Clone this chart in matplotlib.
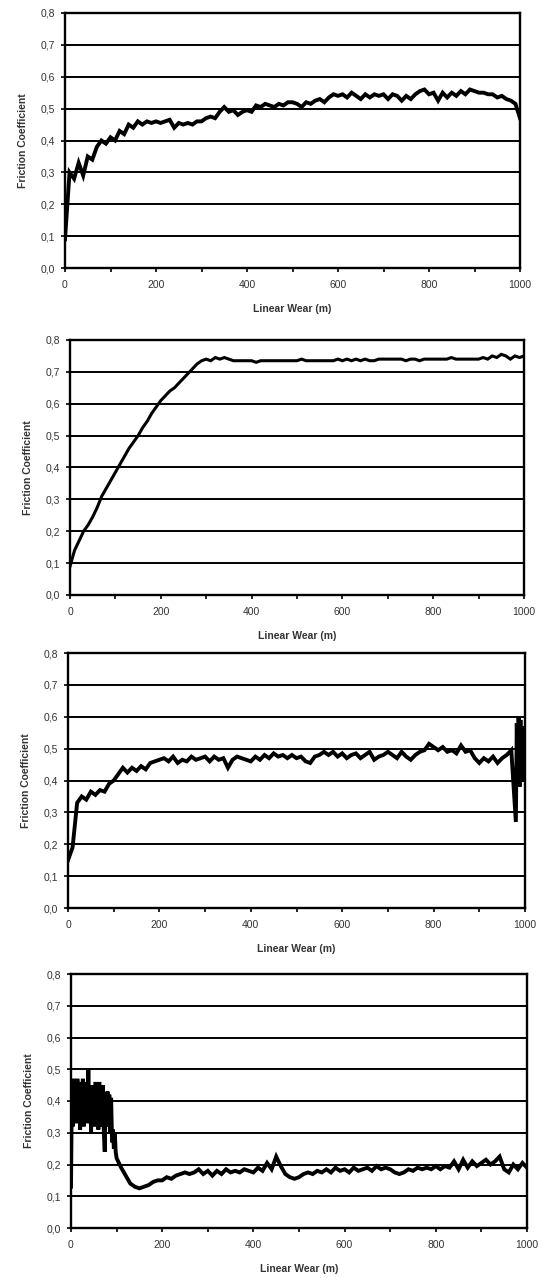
import numpy as np
import matplotlib
matplotlib.use("Agg")
import matplotlib.pyplot as plt
from matplotlib.ticker import FuncFormatter, MultipleLocator

plt.rcParams['font.family'] = ['Liberation Sans', 'DejaVu Sans']

# ---------------- data ----------------
x_label = "Linear Wear (m)"
y_label = "Friction Coefficient"
y_ticks = [0.0, 0.1, 0.2, 0.3, 0.4, 0.5, 0.6, 0.7, 0.8]
x_ticks = [0, 200, 400, 600, 800, 1000]

# Panel 1 (sampled every 10 m)
x1 = np.arange(0, 1001, 10)
y1 = [0.09, 0.30, 0.28, 0.33, 0.29, 0.35, 0.34, 0.38, 0.40, 0.39,
      0.41, 0.40, 0.43, 0.42, 0.45, 0.44, 0.46, 0.45, 0.46, 0.455,
      0.46, 0.455, 0.46, 0.465, 0.44, 0.455, 0.45, 0.455, 0.45, 0.46,
      0.46, 0.47, 0.475, 0.47, 0.49, 0.505, 0.49, 0.495, 0.48, 0.49,
      0.495, 0.49, 0.51, 0.505, 0.515, 0.51, 0.505, 0.515, 0.51, 0.52,
      0.52, 0.515, 0.505, 0.52, 0.515, 0.525, 0.53, 0.52, 0.535, 0.545,
      0.54, 0.545, 0.535, 0.55, 0.54, 0.53, 0.545, 0.535, 0.545, 0.54,
      0.545, 0.53, 0.545, 0.54, 0.525, 0.54, 0.53, 0.545, 0.555, 0.56,
      0.545, 0.55, 0.525, 0.55, 0.535, 0.55, 0.54, 0.555, 0.545, 0.56,
      0.555, 0.55, 0.55, 0.545, 0.545, 0.535, 0.54, 0.53, 0.525, 0.515,
      0.47]

# Panel 2 (sampled every 10 m)
x2 = np.arange(0, 1001, 10)
y2 = [0.09, 0.14, 0.17, 0.20, 0.22, 0.245, 0.275, 0.31, 0.335, 0.36,
      0.385, 0.41, 0.435, 0.46, 0.48, 0.50, 0.525, 0.545, 0.57, 0.59,
      0.61, 0.625, 0.64, 0.65, 0.665, 0.68, 0.695, 0.71, 0.725, 0.735,
      0.74, 0.735, 0.745, 0.74, 0.745, 0.74, 0.735, 0.735, 0.735, 0.735,
      0.735, 0.73, 0.735, 0.735, 0.735, 0.735, 0.735, 0.735, 0.735, 0.735,
      0.735, 0.74, 0.735, 0.735, 0.735, 0.735, 0.735, 0.735, 0.735, 0.74,
      0.735, 0.74, 0.735, 0.74, 0.735, 0.74, 0.735, 0.735, 0.74, 0.74,
      0.74, 0.74, 0.74, 0.74, 0.735, 0.74, 0.74, 0.735, 0.74, 0.74,
      0.74, 0.74, 0.74, 0.74, 0.745, 0.74, 0.74, 0.74, 0.74, 0.74,
      0.74, 0.745, 0.74, 0.75, 0.745, 0.755, 0.75, 0.74, 0.75, 0.745,
      0.75]

# Panel 3 (every 10 m up to 970 m, then every 2 m)
x3 = np.r_[np.arange(0, 971, 10), np.arange(980, 1001, 2)]
y3 = [0.15, 0.19, 0.33, 0.35, 0.34, 0.365, 0.355, 0.37, 0.365, 0.39,
      0.40, 0.42, 0.44, 0.425, 0.44, 0.43, 0.445, 0.435, 0.455, 0.46,
      0.465, 0.47, 0.46, 0.475, 0.455, 0.465, 0.46, 0.475, 0.465, 0.47,
      0.475, 0.46, 0.475, 0.465, 0.47, 0.44, 0.465, 0.475, 0.47, 0.465,
      0.46, 0.475, 0.465, 0.48, 0.47, 0.485, 0.475, 0.48, 0.47, 0.48,
      0.47, 0.475, 0.46, 0.455, 0.475, 0.48, 0.49, 0.48, 0.49, 0.475,
      0.485, 0.47, 0.48, 0.485, 0.47, 0.48, 0.49, 0.465, 0.475, 0.48,
      0.49, 0.48, 0.47, 0.49, 0.475, 0.465, 0.48, 0.49, 0.495, 0.515,
      0.505, 0.495, 0.505, 0.49, 0.495, 0.485, 0.51, 0.49, 0.495, 0.47,
      0.455, 0.47, 0.46, 0.475, 0.455, 0.47, 0.48, 0.495,
      0.27, 0.58, 0.39, 0.60, 0.38, 0.59, 0.42, 0.57, 0.40, 0.55, 0.42]

# Panel 4 (every 2 m up to 98 m, then every 10 m)
x4 = np.r_[np.arange(0, 99, 2), np.arange(100, 1001, 10)]
y4 = [0.13, 0.44, 0.32, 0.47, 0.35, 0.46, 0.33, 0.47, 0.36, 0.46,
      0.31, 0.45, 0.34, 0.47, 0.32, 0.44, 0.36, 0.46, 0.33, 0.50,
      0.34, 0.44, 0.30, 0.45, 0.35, 0.43, 0.32, 0.46, 0.34, 0.45,
      0.31, 0.46, 0.33, 0.44, 0.32, 0.45, 0.30, 0.24, 0.40, 0.32,
      0.43, 0.33, 0.42, 0.30, 0.41, 0.27, 0.31, 0.25, 0.30, 0.24,
      0.22, 0.19, 0.165, 0.14, 0.13, 0.125, 0.13, 0.135, 0.145, 0.15,
      0.15, 0.16, 0.155, 0.165, 0.17, 0.175, 0.17, 0.175, 0.185, 0.17,
      0.18, 0.165, 0.18, 0.17, 0.185, 0.175, 0.18, 0.175, 0.185, 0.18,
      0.175, 0.19, 0.18, 0.205, 0.185, 0.225, 0.195, 0.17, 0.16, 0.155,
      0.16, 0.17, 0.175, 0.17, 0.18, 0.175, 0.185, 0.175, 0.19, 0.18,
      0.185, 0.175, 0.19, 0.18, 0.185, 0.19, 0.18, 0.195, 0.185, 0.19,
      0.185, 0.175, 0.17, 0.175, 0.185, 0.18, 0.19, 0.185, 0.19, 0.185,
      0.195, 0.185, 0.195, 0.19, 0.21, 0.185, 0.215, 0.19, 0.21, 0.195,
      0.205, 0.215, 0.2, 0.21, 0.225, 0.185, 0.175, 0.2, 0.185, 0.205,
      0.19]

series = [(x1, y1), (x2, y2), (x3, y3), (x4, y4)]
line_widths = [2.8, 2.2, 2.8, 2.8]

# ---------------- layout ----------------
W, H = 543, 1278
fig = plt.figure(figsize=(W / 100, H / 100), dpi=100)
fig.patch.set_facecolor('white')

# (left, right, top, bottom) in pixels
boxes = [(65, 520, 13, 268), (70, 524, 340, 595), (68, 525, 653, 908), (71, 527, 974, 1228)]

fmt = FuncFormatter(lambda v, p: f"{v:.1f}".replace('.', ','))

for (xs, ys), lw, (l, r, t, b) in zip(series, line_widths, boxes):
    assert len(xs) == len(ys), (len(xs), len(ys))
    ax = fig.add_axes([l / W, 1 - b / H, (r - l) / W, (b - t) / H])
    ax.set_xlim(0, 1000)
    ax.set_ylim(0, 0.8)
    ax.set_yticks(y_ticks)
    ax.yaxis.set_major_formatter(fmt)
    ax.set_xticks(x_ticks)
    ax.xaxis.set_minor_locator(MultipleLocator(100))
    for yv in y_ticks[1:-1]:
        ax.axhline(yv, color='black', lw=1.4, zorder=1)
    ax.plot(xs, ys, color='black', lw=lw, zorder=3, solid_joinstyle='miter')
    for s in ax.spines.values():
        s.set_linewidth(1.7)
        s.set_color('black')
    ax.tick_params(axis='both', which='both', direction='out', length=3, width=1.2,
                   labelsize=7.5, colors='black', labelcolor='#333333', pad=4)
    ax.tick_params(axis='x', which='major', pad=6)
    ax.set_xlabel(x_label, fontsize=7.5, fontweight='bold', color='#333333', labelpad=10)
    ax.set_ylabel(y_label, fontsize=7.5, fontweight='bold', color='#333333', labelpad=9)

fig.savefig('out.png', dpi=100, facecolor='white')
